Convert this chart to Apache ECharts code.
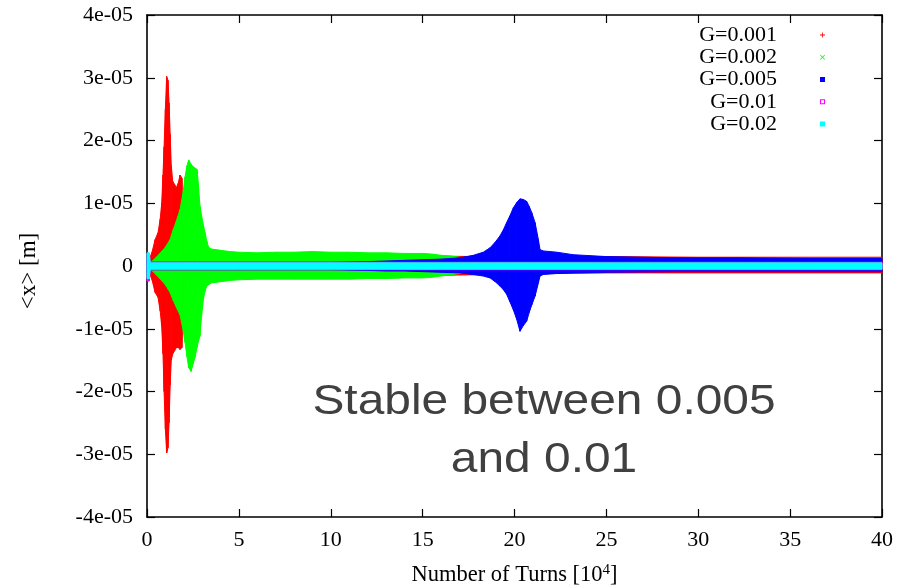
<!DOCTYPE html>
<html>
<head>
<meta charset="utf-8">
<script src="https://cdn.jsdelivr.net/npm/echarts@6/dist/echarts.min.js"></script>
<style>
  html, body { margin: 0; padding: 0; background: #ffffff; }
  #chart { width: 912px; height: 587px; }
</style>
</head>
<body>
<div id="chart"></div>
<script>
// Envelope of the beam centroid <x> versus turn number, one band per gain G.
// Turns are in units of 10^4, amplitudes in units of 1e-5 m.

const gainNames = ['G=0.001', 'G=0.002', 'G=0.005', 'G=0.01', 'G=0.02'];

const xTicks = [0, 5, 10, 15, 20, 25, 30, 35, 40];
const yTicks = [-4, -3, -2, -1, 0, 1, 2, 3, 4];

// G = 0.001
const g001Turns = [0, 0.13, 0.3, 0.44, 0.6, 0.72, 0.8, 0.87, 0.93, 1.0,
                   1.07, 1.14, 1.2, 1.26, 1.32, 1.4, 1.5, 1.6, 1.7, 1.8,
                   1.9, 1.97, 2.2, 3, 5, 10, 15, 18, 20, 22,
                   25, 30, 35, 40];
const g001Upper = [0, 0.1, 0.25, 0.42, 0.53, 0.75, 1.0, 1.45, 1.9, 2.5,
                   3.02, 2.96, 2.6, 2.1, 1.6, 1.35, 1.3, 1.25, 1.32, 1.45,
                   1.4, 0.4, 0.2, 0.18, 0.17, 0.16, 0.16, 0.15, 0.15, 0.15,
                   0.15, 0.14, 0.14, 0.14];
const g001Lower = [0, -0.1, -0.25, -0.42, -0.5, -0.72, -0.96, -1.4, -2.0, -2.6,
                   -2.98, -2.9, -2.5, -1.9, -1.5, -1.4, -1.35, -1.3, -1.3, -1.33,
                   -1.3, -0.4, -0.2, -0.18, -0.17, -0.16, -0.15, -0.14, -0.13, -0.12,
                   -0.11, -0.11, -0.11, -0.11];

// G = 0.002
const g002Turns = [0, 0.3, 0.7, 1.0, 1.25, 1.43, 1.6, 1.8, 1.95, 2.07,
                   2.18, 2.27, 2.4, 2.52, 2.62, 2.72, 2.8, 2.88, 2.97, 3.07,
                   3.16, 3.25, 3.35, 3.5, 4, 4.5, 5, 6, 7, 8,
                   9, 10, 11, 12, 13, 14, 15, 15.5, 16, 16.5,
                   17, 17.5, 18];
const g002Upper = [0.02, 0.08, 0.2, 0.3, 0.42, 0.58, 0.72, 0.9, 1.15, 1.42,
                   1.6, 1.69, 1.62, 1.58, 1.56, 1.54, 1.3, 0.96, 0.8, 0.65,
                   0.53, 0.4, 0.3, 0.27, 0.25, 0.23, 0.22, 0.21, 0.22, 0.22,
                   0.23, 0.22, 0.22, 0.21, 0.21, 0.2, 0.2, 0.19, 0.17, 0.16,
                   0.14, 0.11, 0.06];
const g002Lower = [-0.02, -0.08, -0.2, -0.3, -0.42, -0.55, -0.66, -0.78, -1.0, -1.22,
                   -1.45, -1.62, -1.68, -1.55, -1.45, -1.3, -1.2, -1.12, -0.8, -0.53,
                   -0.4, -0.32, -0.3, -0.27, -0.25, -0.23, -0.22, -0.21, -0.21, -0.21,
                   -0.21, -0.21, -0.21, -0.2, -0.2, -0.19, -0.19, -0.18, -0.16, -0.14,
                   -0.12, -0.1, -0.05];

// G = 0.005
const g005Turns = [0, 0.15, 2, 5, 8, 10, 12, 13, 14, 15,
                   16, 17, 17.76, 18.3, 18.67, 18.95, 19.21, 19.4, 19.57, 19.75,
                   19.94, 20.12, 20.3, 20.48, 20.66, 20.8, 20.94, 21.12, 21.3, 21.39,
                   21.57, 22.3, 23.2, 25, 28.6, 32, 36, 40];
const g005Upper = [0.1, 0.06, 0.06, 0.06, 0.06, 0.06, 0.07, 0.08, 0.09, 0.1,
                   0.11, 0.13, 0.17, 0.22, 0.29, 0.38, 0.48, 0.58, 0.69, 0.8,
                   0.93, 1.01, 1.07, 1.06, 1.03, 0.95, 0.85, 0.69, 0.42, 0.26,
                   0.24, 0.22, 0.18, 0.15, 0.13, 0.13, 0.12, 0.12];
const g005Lower = [-0.1, -0.06, -0.06, -0.06, -0.06, -0.06, -0.07, -0.08, -0.08, -0.09,
                   -0.1, -0.11, -0.135, -0.16, -0.19, -0.25, -0.32, -0.38, -0.45, -0.57,
                   -0.7, -0.85, -1.04, -0.95, -0.88, -0.74, -0.62, -0.48, -0.27, -0.16,
                   -0.135, -0.12, -0.11, -0.1, -0.09, -0.09, -0.09, -0.09];

// G = 0.01
const g01Turns = [0, 0.12, 0.18, 5, 10, 20, 30, 40];
const g01Upper = [0.2, 0.2, 0.06, 0.06, 0.06, 0.06, 0.06, 0.06];
const g01Lower = [-0.24, -0.24, -0.06, -0.06, -0.06, -0.06, -0.06, -0.06];

// G = 0.02
const g02Turns = [0, 0.12, 0.18, 5, 10, 20, 30, 40];
const g02Upper = [0.21, 0.21, 0.05, 0.05, 0.05, 0.05, 0.05, 0.05];
const g02Lower = [-0.2, -0.2, -0.05, -0.05, -0.05, -0.05, -0.05, -0.05];

const UNIT = 1e-5; // metres per amplitude unit

// gnuplot-like point symbols (10x10 boxes), used as legend keys
const SYM_PLUS = 'path://M4.2,0H5.8V4.2H10V5.8H5.8V10H4.2V5.8H0V4.2H4.2Z';
const SYM_CROSS = 'path://M0,1.1L1.1,0L5,3.9L8.9,0L10,1.1L6.1,5L10,8.9L8.9,10L5,6.1L1.1,10L0,8.9L3.9,5Z';
const SYM_STAR = 'path://M0,0H10V10H0Z';
const SYM_BOX = 'path://M0,0H10V10H0ZM2,2V8H8V2Z';
const SYM_FBOX = 'path://M0,0H10V10H0Z';

const bands = [
  { name: gainNames[0], turns: g001Turns, upper: g001Upper, lower: g001Lower },
  { name: gainNames[1], turns: g002Turns, upper: g002Upper, lower: g002Lower },
  { name: gainNames[2], turns: g005Turns, upper: g005Upper, lower: g005Lower },
  { name: gainNames[3], turns: g01Turns, upper: g01Upper, lower: g01Lower },
  { name: gainNames[4], turns: g02Turns, upper: g02Upper, lower: g02Lower }
];
const looks = [
  { color: '#ff0000', symbol: SYM_PLUS },
  { color: '#00ff00', symbol: SYM_CROSS },
  { color: '#0000ff', symbol: SYM_STAR },
  { color: '#ff00ff', symbol: SYM_BOX },
  { color: '#00ffff', symbol: SYM_FBOX }
];

const SERIF = 'Liberation Serif';

// Each data item draws the strip between itself and the next sample.
function bandRenderer(look) {
  return function (params, api) {
    const i = params.dataIndexInside;
    if (i >= params.dataInsideLength - 1) return null;
    const at = (k, dim) => api.coord([api.value(0, k), api.value(dim, k)]);
    return {
      type: 'polygon',
      shape: { points: [at(i, 2), at(i + 1, 2), at(i + 1, 1), at(i, 1)] },
      style: { fill: look.color, stroke: look.color, lineWidth: 1 }
    };
  };
}

const series = bands.map((b, k) => ({
  type: 'custom',
  name: b.name,
  coordinateSystem: 'cartesian2d',
  clip: false,
  silent: true,
  itemStyle: { color: looks[k].color },
  encode: { x: 0, y: [1, 2] },
  data: b.turns.map((t, i) => [t, b.lower[i] * UNIT, b.upper[i] * UNIT]),
  renderItem: bandRenderer(looks[k])
}));

function yLabel(v) {
  const m = Math.round(v / UNIT);
  return m === 0 ? '0' : m + 'e-05';
}

const axisLine = { show: true, onZero: false, lineStyle: { color: '#000', width: 1.6 } };
const tickIn = { show: true, inside: true, length: 8, lineStyle: { color: '#000', width: 1.2 } };

const chart = echarts.init(document.getElementById('chart'), null, { renderer: 'canvas' });
chart.setOption({
  animation: false,
  backgroundColor: '#ffffff',
  grid: { left: 147, right: 30, top: 15, bottom: 70, outerBoundsMode: 'none', containLabel: false },
  legend: {
    orient: 'vertical',
    align: 'right',
    right: 87,
    top: 24,
    padding: 0,
    itemWidth: 81,
    itemHeight: 5,
    itemGap: 0.25,
    selectedMode: false,
    textStyle: { fontFamily: SERIF, fontSize: 22, lineHeight: 22, color: '#000' },
    data: bands.map((b, k) => ({ name: b.name, icon: looks[k].symbol, itemStyle: { color: looks[k].color } }))
  },
  xAxis: [{
    type: 'value',
    min: xTicks[0], max: xTicks[xTicks.length - 1], interval: 5,
    axisLine: axisLine, axisTick: tickIn, splitLine: { show: false },
    axisLabel: { margin: 12, fontFamily: SERIF, fontSize: 22, color: '#000' },
    name: 'Number of Turns [10{sup|4}]',
    nameLocation: 'middle',
    nameGap: 46,
    nameTextStyle: {
      fontFamily: SERIF, fontSize: 22.5, color: '#000',
      rich: { sup: { fontFamily: SERIF, fontSize: 15, color: '#000', padding: [0, 0, 10, 0] } }
    }
  }, {
    type: 'value', position: 'top',
    min: xTicks[0], max: xTicks[xTicks.length - 1], interval: 5,
    axisLine: axisLine, axisTick: tickIn, axisLabel: { show: false }, splitLine: { show: false }
  }],
  yAxis: [{
    type: 'value',
    min: yTicks[0] * UNIT, max: yTicks[yTicks.length - 1] * UNIT, interval: UNIT,
    axisLine: axisLine, axisTick: tickIn, splitLine: { show: false },
    axisLabel: { margin: 14, fontFamily: SERIF, fontSize: 22, color: '#000', formatter: yLabel },
    name: '<x> [m]',
    nameLocation: 'middle',
    nameGap: 107,
    nameTextStyle: { fontFamily: SERIF, fontSize: 23, color: '#000', padding: [0, 10, 0, 0] }
  }, {
    type: 'value', position: 'right',
    min: yTicks[0] * UNIT, max: yTicks[yTicks.length - 1] * UNIT, interval: UNIT,
    axisLine: axisLine, axisTick: tickIn, axisLabel: { show: false }, splitLine: { show: false }
  }],
  graphic: [{
    type: 'text',
    x: 544, y: 431,
    scaleX: 1.14,
    silent: true,
    style: {
      text: 'Stable between 0.005\nand 0.01',
      x: 0, y: 0,
      align: 'center', verticalAlign: 'middle',
      font: '42px "Liberation Sans"',
      lineHeight: 58,
      fill: '#404040'
    }
  }],
  series: series
});
</script>
</body>
</html>
